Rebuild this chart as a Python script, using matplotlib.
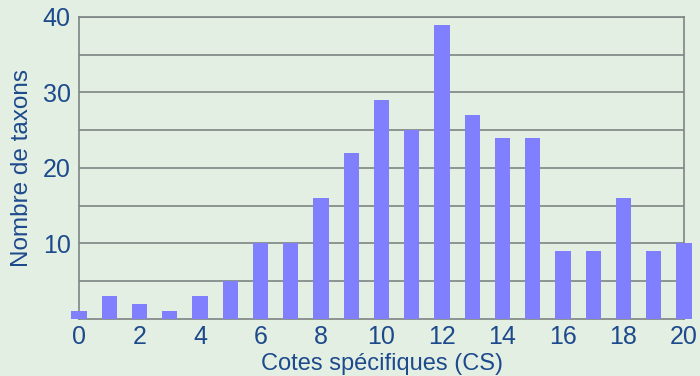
import matplotlib
matplotlib.use("Agg")
import matplotlib.pyplot as plt

# Data
cotes = list(range(21))
taxons = [1, 3, 2, 1, 3, 5, 10, 10, 16, 22, 29, 25, 39, 27, 24, 24, 9, 9, 16, 9, 10]

bg = '#e4efe3'
txt = '#1c4a8c'
grid_c = '#7d8585'

plt.rcParams['font.family'] = ['Liberation Sans', 'DejaVu Sans']

fig = plt.figure(figsize=(7, 3.76), dpi=100, facecolor=bg)
ax = fig.add_axes([0.1129, 0.1516, 0.8643, 0.8032])
ax.set_facecolor(bg)

ax.bar(cotes, taxons, width=0.5, color='#8080ff', clip_on=False, zorder=3)

ax.set_xlim(0, 20)
ax.set_ylim(0, 40)
ax.set_xticks(range(0, 21, 2))
ax.set_yticks([10, 20, 30, 40])
ax.set_yticks(range(5, 40, 5), minor=True)
ax.yaxis.grid(True, which='both', color=grid_c, linewidth=1.2, zorder=1)
ax.set_axisbelow(True)
ax.tick_params(which='both', length=0, labelsize=18, colors=txt)
ax.tick_params(axis='y', pad=6)
ax.tick_params(axis='x', pad=4)

for s in ax.spines.values():
    s.set_color(grid_c)
    s.set_linewidth(1.2)

ax.set_xlabel('Cotes spécifiques (CS)', fontsize=17, color=txt, labelpad=3)
ax.set_ylabel('Nombre de taxons', fontsize=17.5, color=txt, labelpad=7)

fig.savefig('out.png', dpi=100, facecolor=bg)
